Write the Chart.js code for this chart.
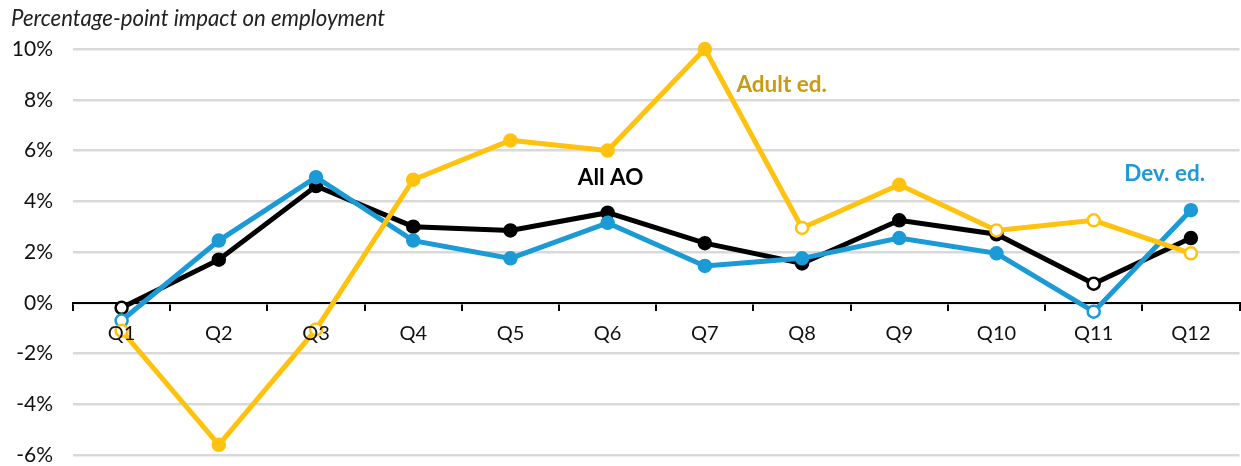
<!DOCTYPE html>
<html>
<head>
<meta charset="utf-8">
<script src="https://cdn.jsdelivr.net/npm/chart.js@4"></script>
<style>
  html, body { margin: 0; padding: 0; overflow: hidden; background: #fff; }
  #wrap { position: relative; width: 1248px; height: 466px; }
</style>
</head>
<body>
<div id="wrap"><canvas id="mycanvas"></canvas></div>
<script>
// values (percentage points)
var quarters = ['Q1', 'Q2', 'Q3', 'Q4', 'Q5', 'Q6', 'Q7', 'Q8', 'Q9', 'Q10', 'Q11', 'Q12'];
var allAO   = [-0.2, 1.7, 4.6, 3.0, 2.85, 3.55, 2.35, 1.55, 3.25, 2.7, 0.75, 2.55];
var devEd   = [-0.7, 2.45, 4.95, 2.45, 1.75, 3.15, 1.45, 1.75, 2.55, 1.95, -0.35, 3.65];
var adultEd = [-1.1, -5.6, -1.05, 4.85, 6.4, 6.0, 10.0, 2.95, 4.65, 2.85, 3.25, 1.95];
// filled marker = 1, hollow marker = 0
var allAOSig   = [0, 1, 1, 1, 1, 1, 1, 1, 1, 1, 0, 1];
var devEdSig   = [0, 1, 1, 1, 1, 1, 1, 1, 1, 1, 0, 1];
var adultEdSig = [0, 1, 0, 1, 1, 1, 1, 0, 1, 0, 0, 0];
var yTicks = [-6, -4, -2, 0, 2, 4, 6, 8, 10];

var seriesLabels = [
  { text: 'Adult ed.', x: 6.79, y: 8.58, color: '#c89b12' },
  { text: 'All AO',    x: 5.03, y: 4.92, color: '#000000' },
  { text: 'Dev. ed.',  x: 10.73, y: 5.08, color: '#1e9ad6' }
];

var FONT = 'Lato, "Noto Sans", sans-serif';

function fills(sig, color) {
  return sig.map(function(s){ return s ? color : '#ffffff'; });
}

function makeSet(label, data, sig, color) {
  return {
    label: label,
    data: data,
    borderColor: color,
    borderWidth: 5,
    pointRadius: 6,
    pointHoverRadius: 6,
    pointBorderWidth: 2.5,
    pointBorderColor: color,
    pointBackgroundColor: fills(sig, color),
    tension: 0,
    clip: false
  };
}

var labelPlugin = {
  id: 'seriesLabels',
  afterDatasetsDraw: function(chart) {
    var ctx = chart.ctx;
    var xs = chart.scales.x, ys = chart.scales.y;
    ctx.save();
    ctx.font = 'bold 22.5px ' + FONT;
    ctx.textAlign = 'center';
    ctx.textBaseline = 'middle';
    seriesLabels.forEach(function(l){
      ctx.fillStyle = l.color;
      ctx.fillText(l.text, xs.getPixelForValue(l.x), ys.getPixelForValue(l.y));
    });
    ctx.restore();
  }
};

var ctx = document.getElementById('mycanvas');
var lineChart = new Chart(ctx, {
  type: 'line',
  data: {
    labels: quarters,
    datasets: [
      makeSet('Adult ed.', adultEd, adultEdSig, '#ffc20e'),
      makeSet('Dev. ed.', devEd, devEdSig, '#1b9ad6'),
      makeSet('All AO', allAO, allAOSig, '#000000')
    ]
  },
  options: {
    responsive: true,
    maintainAspectRatio: false,
    animation: false,
    layout: { padding: { left: 11, right: 4, bottom: 11 } },
    plugins: {
      legend: { display: false },
      tooltip: { enabled: false },
      title: {
        display: true,
        text: 'Percentage-point impact on employment',
        align: 'start',
        color: '#222',
        font: { family: FONT, size: 22.2, style: 'italic', weight: 'normal' },
        padding: { top: 6, bottom: 16.4 }
      }
    },
    scales: {
      x: {
        type: 'category',
        offset: true,
        position: { y: 0 },
        afterFit: function(scale) { scale.paddingLeft = 0; scale.paddingRight = 0; },
        grid: { display: true, drawOnChartArea: false, drawTicks: true, tickLength: 7, color: '#000', lineWidth: 2, offset: true },
        border: { display: true, color: '#000', width: 2 },
        ticks: { color: '#111', font: { family: FONT, size: 20 }, padding: 12, maxRotation: 0, z: 1 }
      },
      y: {
        min: -6,
        max: 10,
        afterBuildTicks: function(scale) {
          scale.ticks = yTicks.map(function(v){ return { value: v }; });
        },
        afterFit: function(scale) {
          scale.width = 62;
          scale.paddingTop = 0;
          scale.paddingBottom = 0;
        },
        grid: { color: '#d9d9d9', lineWidth: 2.5, drawTicks: false },
        border: { display: false },
        ticks: {
          color: '#111',
          font: { family: FONT, size: 21 },
          padding: 20,
          callback: function(v){ return v + '%'; }
        }
      }
    }
  },
  plugins: [labelPlugin]
});
</script>
</body>
</html>
